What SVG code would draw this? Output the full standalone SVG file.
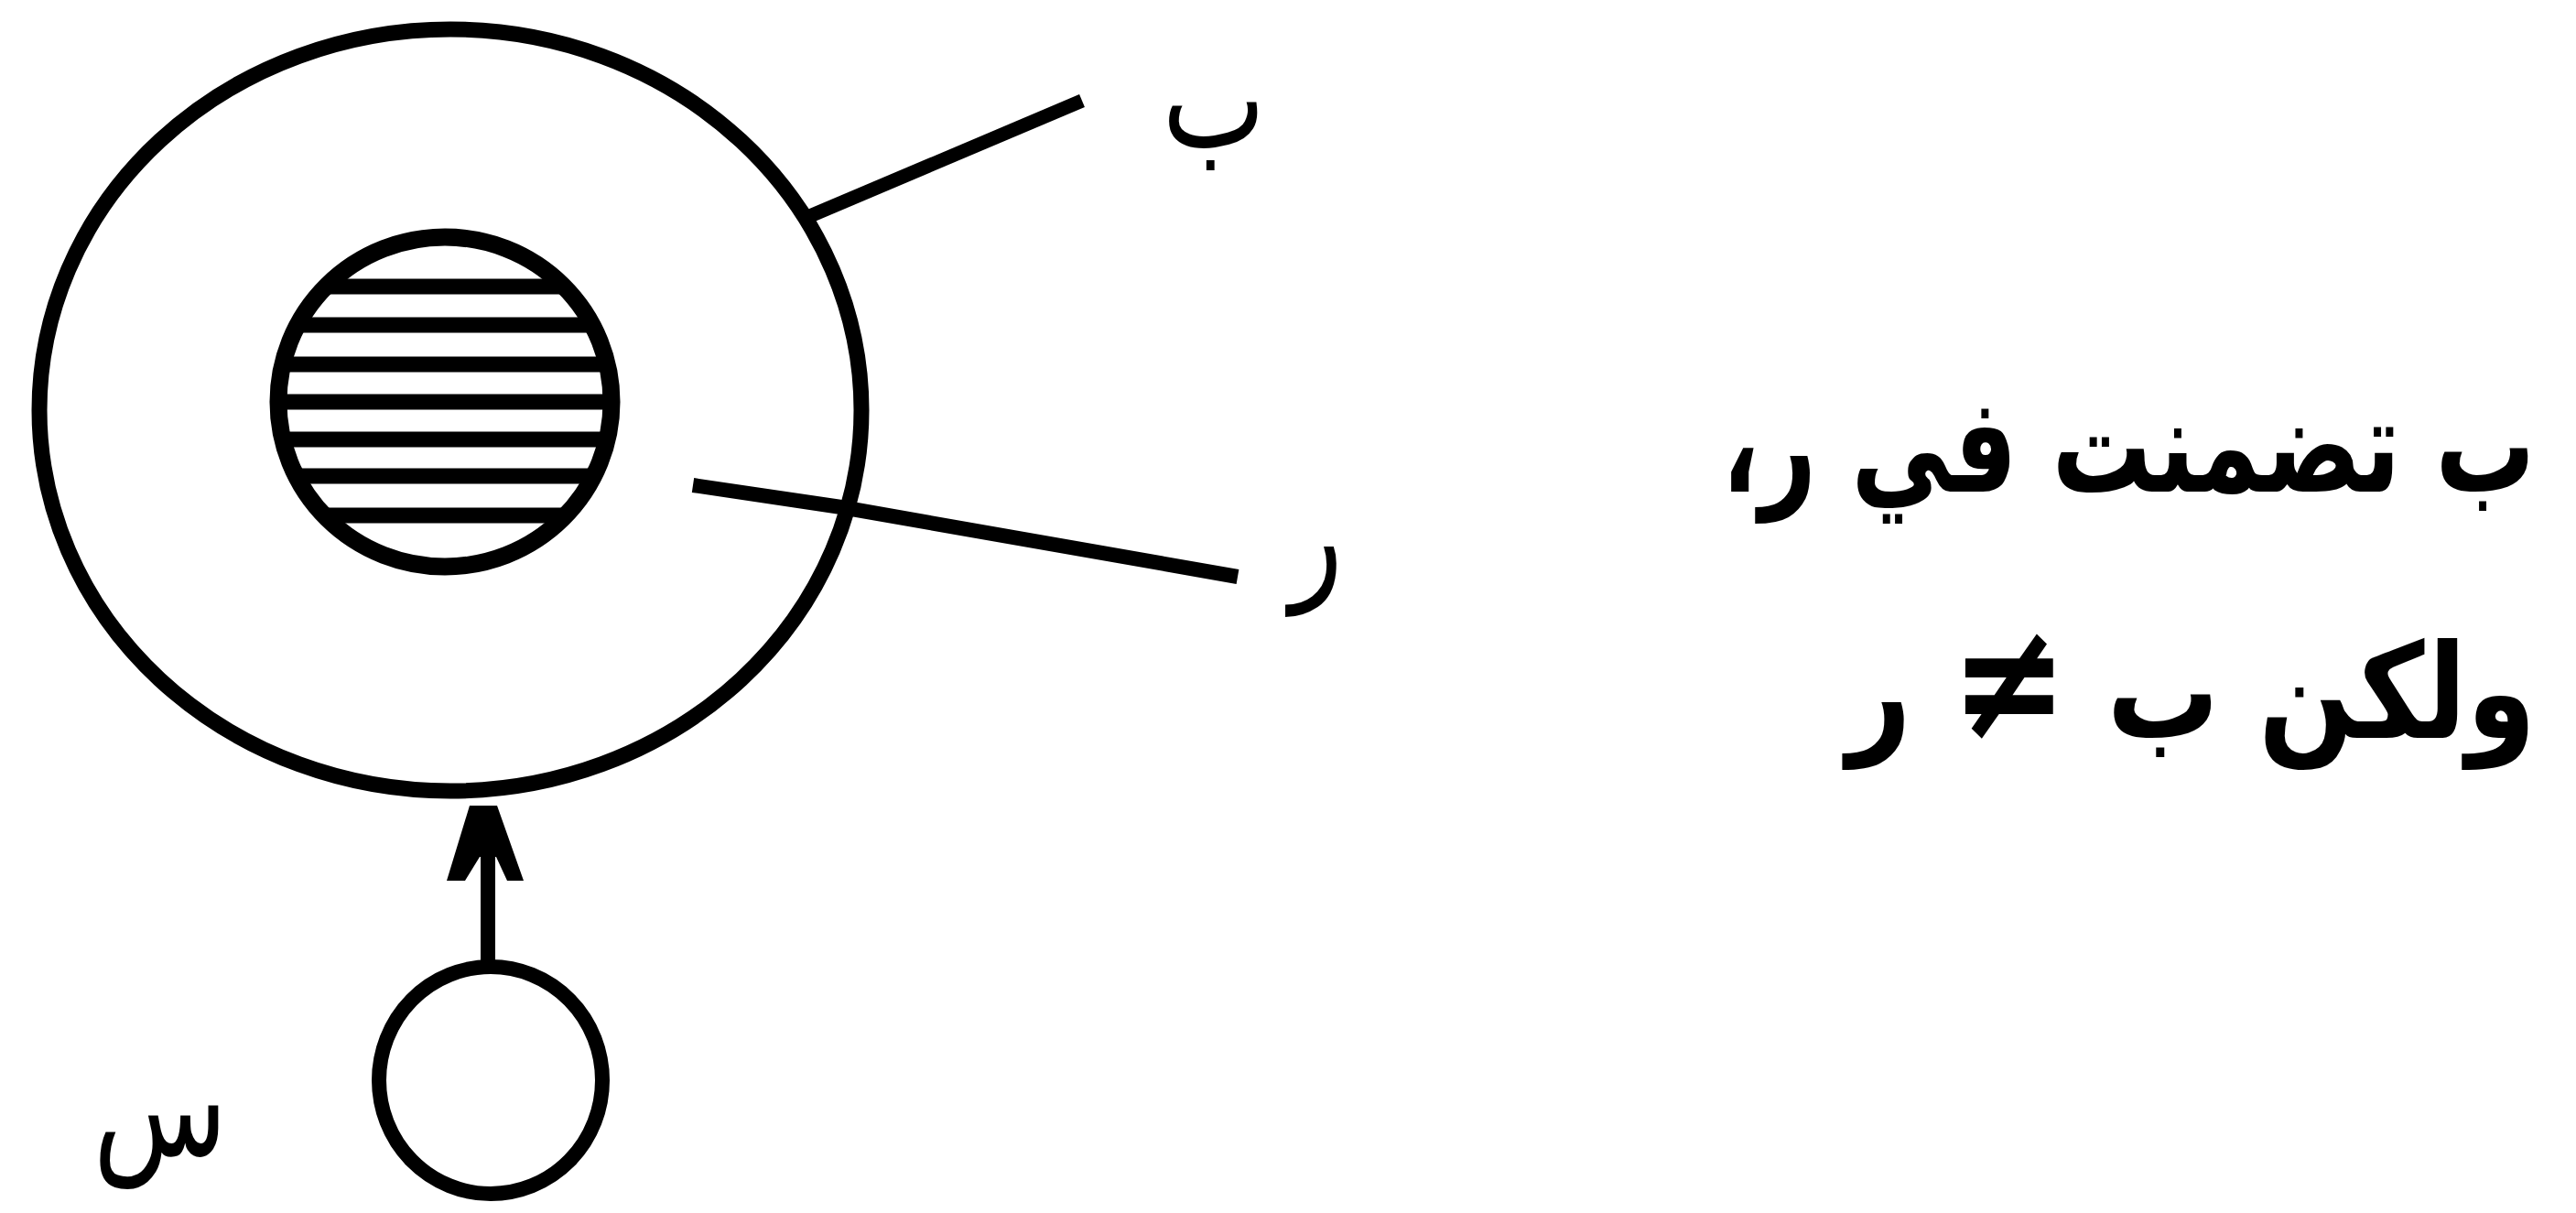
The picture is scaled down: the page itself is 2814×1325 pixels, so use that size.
<svg xmlns="http://www.w3.org/2000/svg" width="2814" height="1325" viewBox="0 0 2814 1325">
  <style>
    .ln { fill: none; stroke: #000; stroke-linecap: butt; }
    .lbl { font-family: "DejaVu Sans", sans-serif; font-weight: normal; font-size: 120px; fill: #000; }
    .txt { font-family: "DejaVu Sans", sans-serif; font-weight: bold; font-size: 120px; fill: #000; }
    .neq { font-size: 150px; }
  </style>
  <defs>
    <clipPath id="innerClip">
      <ellipse cx="486" cy="439" rx="182" ry="180"/>
    </clipPath>
  </defs>
  <rect x="0" y="0" width="2814" height="1325" fill="#fff"/>

  <g id="node-b">
    <ellipse class="ln" cx="492" cy="448" rx="449" ry="416" stroke-width="17"/>
  </g>

  <g id="node-r">
    <g clip-path="url(#innerClip)" class="ln" stroke-width="17">
      <line x1="290" y1="313" x2="690" y2="313"/>
      <line x1="290" y1="355" x2="690" y2="355"/>
      <line x1="290" y1="398" x2="690" y2="398"/>
      <line x1="290" y1="439" x2="690" y2="439"/>
      <line x1="290" y1="480" x2="690" y2="480"/>
      <line x1="290" y1="520" x2="690" y2="520"/>
      <line x1="290" y1="563" x2="690" y2="563"/>
    </g>
    <ellipse class="ln" cx="486" cy="439" rx="182" ry="180" stroke-width="19"/>
  </g>

  <g id="node-s">
    <ellipse class="ln" cx="536" cy="1180" rx="122" ry="124" stroke-width="16"/>
  </g>

  <g id="connectors">
    <line class="ln" x1="880" y1="238" x2="1182" y2="110" stroke-width="15"/>
    <polyline class="ln" points="757,530 919,554 1352,630" stroke-width="16"/>
    <line class="ln" x1="533" y1="1050" x2="533" y2="925" stroke-width="16"/>
    <polygon points="513,880 543,880 572,962 554,962 542,936 524,936 508,962 488,962" fill="#000"/>
  </g>

  <g id="labels">
    <text class="lbl" transform="translate(1326,160) scale(1,1.25)" text-anchor="middle">ب</text>
    <text class="lbl" transform="translate(1438,637) scale(1,1.25)" text-anchor="middle">ر</text>
    <text class="lbl" transform="translate(175,1262) scale(1,1.25)" text-anchor="middle">س</text>
    <text class="txt" direction="rtl" transform="translate(2325,537) scale(0.907,1.2)" text-anchor="middle">ب تضمنت في ر،</text>
    <text class="txt" direction="rtl" transform="translate(2394,806) scale(1.02,1.2)" text-anchor="middle">ولكن ب   <tspan class="neq">≠</tspan>   ر</text>
  </g>
</svg>
